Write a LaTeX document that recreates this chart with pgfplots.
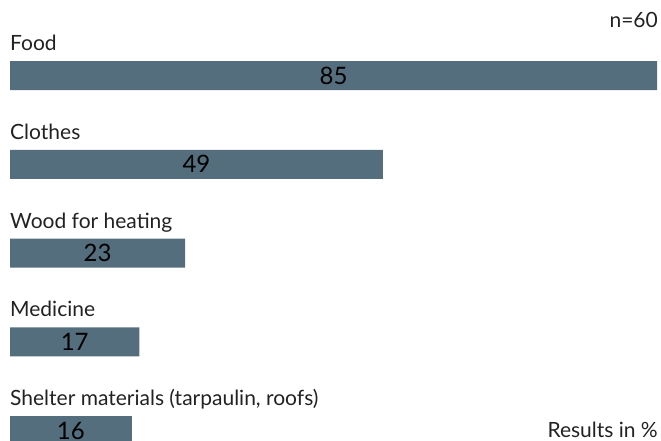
\documentclass[border=0pt]{standalone}
\usepackage{pgfplots}
\pgfplotsset{compat=1.18}
\usepackage{pgfplotstable}
\usepackage{fontspec}
\setmainfont{Lato}
\definecolor{barc}{HTML}{546E7E}
\definecolor{txt}{HTML}{222222}
\pgfplotstableread{
y val
0 85
1 49
2 23
3 17
4 16
}\data
\newcommand{\lab}{\fontsize{21}{21}\selectfont}
\begin{document}
\begin{tikzpicture}
\path[use as bounding box] (0,0) rectangle (661pt,441pt);
\clip (0,0) rectangle (661pt,441pt);
\begin{axis}[at={(10pt,0pt)}, anchor=south west, scale only axis,
  width=647pt, height=441pt, xmin=0, xmax=85, ymin=-0.851, ymax=4.118,
  y dir=reverse, axis lines=none, clip=false,
  /pgf/number format/assume math mode=true]
\addplot[xbar, bar width=29pt, fill=barc, draw=none] table[x=val, y=y]{\data};
\addplot[draw=none, mark=none, nodes near coords, point meta=explicit,
  every node near coord/.append style={anchor=center, text=black, font=\fontsize{24}{24}\selectfont}]
  table[x expr=\thisrow{val}/2, y=y, meta=val]{\data};
\node[anchor=base west, inner sep=0, text=txt, font=\lab, yshift=25pt] at (axis cs:0,0) {Food};
\node[anchor=base west, inner sep=0, text=txt, font=\lab, yshift=25pt] at (axis cs:0,1) {Clothes};
\node[anchor=base west, inner sep=0, text=txt, font=\lab, yshift=25pt] at (axis cs:0,2) {Wood for heating};
\node[anchor=base west, inner sep=0, text=txt, font=\lab, yshift=25pt] at (axis cs:0,3) {Medicine};
\node[anchor=base west, inner sep=0, text=txt, font=\lab, yshift=25pt] at (axis cs:0,4) {Shelter materials (tarpaulin, roofs)};
\end{axis}
\node[anchor=base east, inner sep=0, text=txt, font=\lab] at (658pt,413pt) {n=60};
\node[anchor=base east, inner sep=0, text=txt, font=\lab] at (658pt,3pt) {Results in \%};
\end{tikzpicture}
\end{document}
